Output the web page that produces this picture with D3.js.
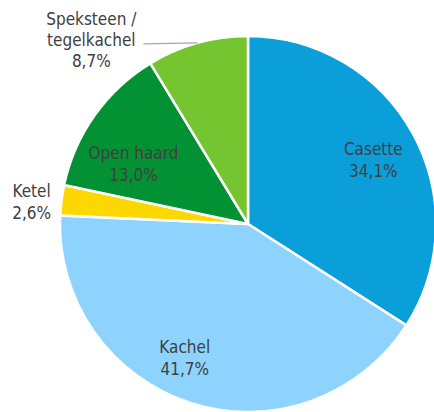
<!DOCTYPE html>
<html>
<head>
<meta charset="utf-8">
<script src="https://cdn.jsdelivr.net/npm/d3@7"></script>
<style>
  html, body { margin: 0; padding: 0; background: #fff; }
  svg { display: block; }
  text { font-family: "DejaVu Sans Condensed", "DejaVu Sans", sans-serif; font-size: 17px; fill: #404040; }
</style>
</head>
<body>
<div id="chart"></div>
<script>
// categories & values (percent), clockwise from 12 o'clock
const categories = ['Casette', 'Kachel', 'Ketel', 'Open haard', 'Speksteen / tegelkachel']
const values = [34.1, 41.7, 2.6, 13.0, 8.7]
const colors = ['#0a9fd9', '#8dd3fd', '#fdd800', '#039233', '#74c530']

const width = 434, height = 412
const cx = 248, cy = 224, R = 188

const svg = d3.select('#chart').append('svg')
  .attr('width', width)
  .attr('height', height)

const data = categories.map((c, i) => ({ name: c, value: values[i], color: colors[i] }))

const pie = d3.pie().sort(null).value(d => d.value)
const arcs = pie(data)
const arc = d3.arc().innerRadius(0).outerRadius(R)

const g = svg.append('g').attr('transform', 'translate(' + cx + ',' + cy + ')')

g.selectAll('path')
  .data(arcs)
  .enter()
  .append('path')
  .attr('d', arc)
  .attr('fill', d => d.data.color)
  .attr('stroke', '#fff')
  .attr('stroke-width', 2.5)
  .attr('stroke-linejoin', 'round')

const fmt = v => d3.format('.1f')(v).replace('.', ',') + '%'
const mid = d => (d.startAngle + d.endAngle) / 2
const polar = (r, a) => [r * Math.sin(a), -r * Math.cos(a)]

// label placement: radius factor + small nudge (px)
const place = {
  'Casette': { r: 0.76, dx: 0, dy: 4 },
  'Kachel': { r: 0.76, dx: -20, dy: -3 },
  'Ketel': { r: 1.155, dx: -1, dy: 5 },
  'Open haard': { r: 0.76, dx: 2, dy: 22 }
}

arcs.forEach(d => {
  const name = d.data.name
  const p = place[name]
  if (p) {
    const [x, y] = polar(R * p.r, mid(d))
    const t = g.append('text')
      .attr('text-anchor', 'middle')
      .attr('transform', 'translate(' + (x + p.dx) + ',' + (y + p.dy) + ')')
    t.append('tspan').attr('x', 0).attr('y', -4.5).text(name)
    t.append('tspan').attr('x', 0).attr('y', 17.5).text(fmt(d.data.value))
  } else {
    // outside label with leader line
    const [x0, y0] = polar(R, mid(d))
    g.append('line')
      .attr('x1', x0).attr('y1', y0)
      .attr('x2', x0 - 54).attr('y2', y0 + 1)
      .attr('stroke', '#a6a6a6')
      .attr('stroke-width', 1.2)
    const lines = ['Speksteen /', 'tegelkachel', fmt(d.data.value)]
    const t = g.append('text')
      .attr('text-anchor', 'middle')
      .attr('transform', 'translate(' + (x0 - 106) + ',' + (y0 - 3.5) + ')')
    lines.forEach((l, i) => {
      t.append('tspan').attr('x', 0).attr('y', -14.5 + i * 21).text(l)
    })
  }
})
</script>
</body>
</html>
